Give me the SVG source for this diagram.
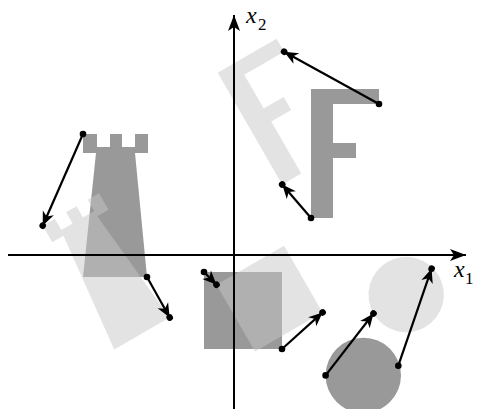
<svg xmlns="http://www.w3.org/2000/svg" xmlns:xlink="http://www.w3.org/1999/xlink" width="477" height="409" viewBox="0 0 477 409">
<style>
.dark{fill:#999999;}
.light{fill:#c7c7c7;fill-opacity:0.5;}
.axis{stroke:#000;stroke-width:2;fill:none;}
.arrow{stroke:#000;stroke-width:2.2;fill:none;}
.lbl{font-family:"Liberation Serif","DejaVu Serif",serif;font-style:italic;fill:#000;}
.sub{font-family:"Liberation Serif","DejaVu Serif",serif;font-style:normal;fill:#000;}
</style>
<defs>
<polygon id="rookShape" points="83,134 97,134 97,147 110,147 110,134 122,134 122,147 135,147 135,134 148,134 148,153 135,153 147,277 83,277 96,153 83,153"/>
<polygon id="fShape" points="311,89 379,89 379,104 333,104 333,143 356,143 356,158 333,158 333,218 311,218"/>
<rect id="sqShape" x="204" y="272" width="78" height="77"/>
<circle id="circShape" cx="363.3" cy="375.4" r="37.7"/>
<marker id="dot" markerUnits="userSpaceOnUse" markerWidth="10" markerHeight="10" viewBox="-5 -5 10 10" refX="0" refY="0" overflow="visible">
<circle cx="0" cy="0" r="3.3" fill="#000"/>
</marker>
<marker id="head" markerUnits="userSpaceOnUse" markerWidth="20" markerHeight="20" viewBox="-16 -8 20 16" refX="0" refY="0" orient="auto" overflow="visible">
<path d="M0,0 L-14,-6 L-10,0 L-14,6 Z" fill="#000"/>
<circle cx="0" cy="0" r="3.3" fill="#000"/>
</marker>
<marker id="axhead" markerUnits="userSpaceOnUse" markerWidth="20" markerHeight="20" viewBox="-18 -8 20 16" refX="0" refY="0" orient="auto" overflow="visible">
<path d="M0,0 L-16,-6 L-12,0 L-16,6 Z" fill="#000"/>
</marker>
</defs>
<rect width="477" height="409" fill="#fff"/>

<g id="rook-original"><use xlink:href="#rookShape" class="dark"/></g>
<g id="f-original"><use xlink:href="#fShape" class="dark"/></g>
<g id="square-original"><use xlink:href="#sqShape" class="dark"/></g>
<g id="circle-original"><use xlink:href="#circShape" class="dark"/></g>

<g id="rook-rotated" transform="rotate(-30 234 255)"><use xlink:href="#rookShape" class="light"/></g>
<g id="f-rotated" transform="rotate(-30 234 255)"><use xlink:href="#fShape" class="light"/></g>
<g id="square-rotated" transform="rotate(-30 234 255)"><use xlink:href="#sqShape" class="light"/></g>
<g id="circle-rotated" transform="rotate(-30 234 255)"><use xlink:href="#circShape" class="light"/></g>

<g id="axes">
<line class="axis" x1="8" y1="255" x2="466" y2="255" marker-end="url(#axhead)"/>
<line class="axis" x1="234" y1="409" x2="234" y2="15" marker-end="url(#axhead)"/>
<text class="lbl" x="454" y="277" font-size="24">x<tspan class="sub" x="465" y="284" font-size="17">1</tspan></text>
<text class="lbl" x="246" y="23" font-size="24">x<tspan class="sub" x="258" y="30" font-size="17">2</tspan></text>
</g>

<g id="connectors">
<line class="arrow" x1="83" y1="134" x2="42.7" y2="225.7" marker-start="url(#dot)" marker-end="url(#head)"/>
<line class="arrow" x1="147" y1="277" x2="169.7" y2="317.5" marker-start="url(#dot)" marker-end="url(#head)"/>
<line class="arrow" x1="379" y1="104" x2="284.1" y2="51.7" marker-start="url(#dot)" marker-end="url(#head)"/>
<line class="arrow" x1="311" y1="218" x2="282.2" y2="184.5" marker-start="url(#dot)" marker-end="url(#head)"/>
<line class="arrow" x1="204" y1="272" x2="216.5" y2="284.7" marker-start="url(#dot)" marker-end="url(#head)"/>
<line class="arrow" x1="282" y1="349" x2="322.6" y2="312.4" marker-start="url(#dot)" marker-end="url(#head)"/>
<line class="arrow" x1="325.6" y1="375.4" x2="373.5" y2="313.5" marker-start="url(#dot)" marker-end="url(#head)"/>
<line class="arrow" x1="398.3" y1="365.7" x2="431.6" y2="268.7" marker-start="url(#dot)" marker-end="url(#head)"/>
</g>
</svg>
